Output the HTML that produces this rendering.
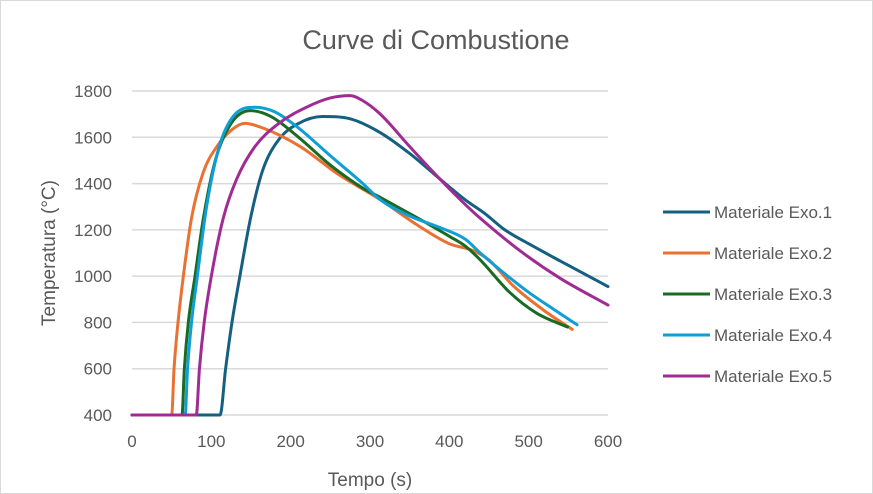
<!DOCTYPE html>
<html><head><meta charset="utf-8"><style>
html,body{margin:0;padding:0;background:#fff;}
svg{display:block;font-family:"Liberation Sans",sans-serif;}
</style></head><body>
<svg id="chart" width="873" height="494" viewBox="0 0 873 494">
<rect x="0.5" y="0.5" width="872" height="493" fill="#fff" stroke="#d9d9d9"/>
<text x="436" y="49" text-anchor="middle" font-size="27" fill="#595959">Curve di Combustione</text>
<g id="grid"></g>
<g id="yticks"></g>
<g id="xticks"></g>
<g id="series"></g>
<text x="55" y="253" text-anchor="middle" font-size="19" fill="#595959" transform="rotate(-90 55 253)">Temperatura (°C)</text>
<text x="370" y="486" text-anchor="middle" font-size="19" fill="#595959">Tempo (s)</text>
<g id="legend"></g>
</svg>
<script>
const names = ["Materiale Exo.1","Materiale Exo.2","Materiale Exo.3","Materiale Exo.4","Materiale Exo.5"];
const colors = ["#156082","#E97132","#196B24","#0F9ED5","#A02B93"];
const xTicks = [0,100,200,300,400,500,600];
const yTicks = [400,600,800,1000,1200,1400,1600,1800];
const s1 = [[0,400],[111,400],[118,600],[126,800],[136,1000],[150,1260],[165,1460],[185,1590],[210,1660],[240,1690],[275,1680],[313,1620],[350,1530],[388,1420],[420,1330],[445,1270],[470,1200],[500,1140],[540,1065],[600,955]];
const s2 = [[0,400],[50,400],[53,600],[58,800],[64,980],[75,1250],[90,1450],[107,1560],[125,1630],[142,1660],[165,1640],[212,1560],[260,1440],[313,1330],[360,1220],[400,1140],[430,1110],[450,1070],[480,960],[520,850],[555,770]];
const s3 = [[0,400],[63,400],[66,600],[71,800],[79,990],[90,1250],[105,1500],[125,1660],[149,1715],[175,1690],[210,1600],[250,1480],[291,1380],[313,1340],[350,1270],[376,1220],[401,1170],[420,1130],[439,1070],[476,930],[510,840],[549,780]];
const s4 = [[0,400],[67,400],[70,600],[75,800],[82,990],[94,1300],[110,1560],[130,1700],[155,1730],[180,1710],[210,1640],[250,1520],[291,1400],[313,1330],[350,1260],[388,1210],[420,1160],[439,1100],[470,1010],[500,930],[530,860],[561,790]];
const s5 = [[0,400],[81,400],[85,600],[91,800],[100,1000],[115,1250],[132,1420],[155,1560],[185,1660],[220,1730],[250,1770],[275,1780],[290,1760],[313,1700],[350,1560],[388,1420],[420,1310],[439,1250],[489,1110],[540,990],[600,875]];
const allSeries = [s1,s2,s3,s4,s5];

const NS="http://www.w3.org/2000/svg";
const X0=132,X1=608,Y0=415,Y1=91;
function xs(v){return X0+(v-0)/(600-0)*(X1-X0);}
function ys(v){return Y0-(v-400)/(1800-400)*(Y0-Y1);}
function mk(tag,attrs,parent){const e=document.createElementNS(NS,tag);for(const k in attrs)e.setAttribute(k,attrs[k]);parent.appendChild(e);return e;}

const grid=document.getElementById('grid');
yTicks.forEach(v=>{
  const l=mk('line',{x1:X0,x2:X1,y1:ys(v),y2:ys(v),stroke:'#d9d9d9','stroke-width':1.5},grid);
  
  
});
const ya=document.getElementById('yticks');
yTicks.forEach(v=>{
  const t=mk('text',{x:112,y:ys(v)+6,'text-anchor':'end','font-size':17,fill:'#595959'},ya);
  t.textContent=v;
  
  
});
const xa=document.getElementById('xticks');
xTicks.forEach(v=>{
  const t=mk('text',{x:xs(v),y:447,'text-anchor':'middle','font-size':17,fill:'#595959'},xa);
  t.textContent=v;
  
  
});

function monotonePath(pts){
  const p=pts.map(d=>[xs(d[0]),ys(d[1])]);
  const n=p.length;
  const dx=[],sl=[];
  for(let i=0;i<n-1;i++){dx[i]=p[i+1][0]-p[i][0];sl[i]=(p[i+1][1]-p[i][1])/dx[i];}
  const m=[sl[0]];
  for(let i=1;i<n-1;i++){ if(sl[i-1]*sl[i]<=0)m[i]=0; else m[i]=(sl[i-1]+sl[i])/2; }
  m[n-1]=sl[n-2];
  for(let i=0;i<n-1;i++){
    if(sl[i]===0){m[i]=0;m[i+1]=0;continue;}
    const a=m[i]/sl[i],b=m[i+1]/sl[i],h=a*a+b*b;
    if(h>9){const t=3/Math.sqrt(h);m[i]=t*a*sl[i];m[i+1]=t*b*sl[i];}
  }
  let d='M'+p[0][0]+','+p[0][1];
  for(let i=0;i<n-1;i++){
    const h=dx[i]/3;
    d+=' C'+(p[i][0]+h)+','+(p[i][1]+m[i]*h)+' '+(p[i+1][0]-h)+','+(p[i+1][1]-m[i+1]*h)+' '+p[i+1][0]+','+p[i+1][1];
  }
  return d;
}
const sg=document.getElementById('series');
allSeries.forEach((s,i)=>{
  const path=mk('path',{d:monotonePath(s),fill:'none',stroke:colors[i],'stroke-width':3,'stroke-linejoin':'round','stroke-linecap':'round'},sg);
  
  
});
const lg=document.getElementById('legend');
names.forEach((nm,i)=>{
  const y=212+i*41;
  const g=mk('g',{},lg);
  
  
  mk('line',{x1:663,x2:710,y1:y,y2:y,stroke:colors[i],'stroke-width':3},g);
  const t=mk('text',{x:714,y:y+6,'font-size':17,fill:'#595959'},g);
  t.textContent=nm;
});
</script>
</body></html>
